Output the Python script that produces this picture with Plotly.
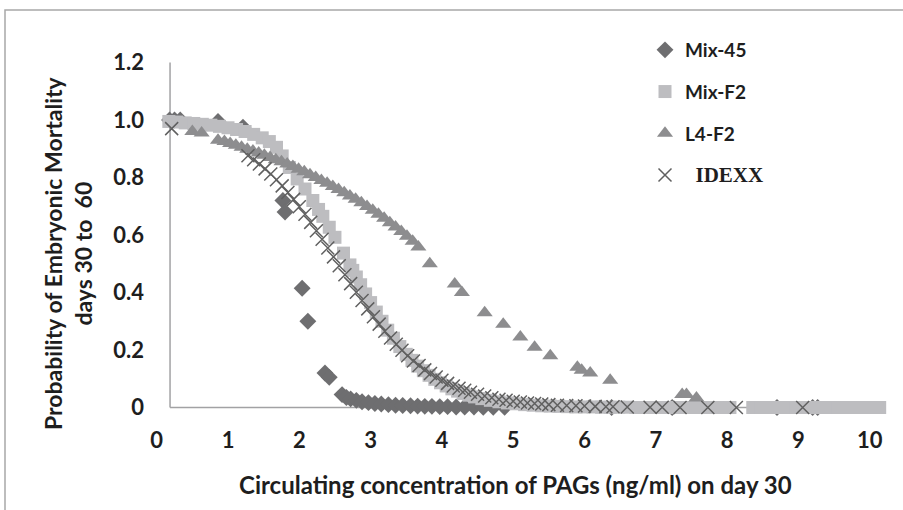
import plotly.graph_objects as go

# ---------------- data ----------------
mix45_x = [0.18, 0.25, 0.33, 0.86, 1.21, 1.77, 1.80, 2.04, 2.12, 2.36, 2.42, 2.60, 2.66,
           2.72, 2.80, 2.88, 2.97, 3.06, 3.15, 3.25, 3.35, 3.45, 3.56, 3.66, 3.76, 3.86,
           3.97, 4.08, 4.20, 4.32, 4.45, 4.58, 4.72, 4.88, 6.38, 7.23, 8.70, 9.20, 9.27]
mix45_y = [1.0, 1.0, 1.0, 0.995, 0.975, 0.72, 0.68, 0.415, 0.30, 0.12, 0.105, 0.045, 0.035,
           0.030, 0.025, 0.020, 0.017, 0.014, 0.012, 0.010, 0.008, 0.007, 0.006, 0.005, 0.004, 0.004,
           0.003, 0.003, 0.002, 0.002, 0.002, 0.001, 0.001, 0.001, 0.0, 0.0, 0.0, 0.0, 0.0]

mixf2_x = [0.17, 0.28, 0.40, 0.52, 0.64, 0.76, 0.88, 1.00, 1.12, 1.24, 1.36, 1.48, 1.58, 1.68,
           1.76, 1.86, 1.97, 2.08, 2.19, 2.27, 2.33, 2.42, 2.50, 2.62, 2.71, 2.75, 2.80, 2.86,
           2.93, 3.00, 3.08, 3.16, 3.24, 3.32, 3.41, 3.50, 3.58, 3.66, 3.74, 3.82, 3.90, 3.98,
           4.06, 4.14, 4.22, 4.30, 4.38, 4.46, 4.56, 4.68, 4.80, 4.92, 5.04, 5.16, 5.28, 5.40,
           5.52, 5.64, 5.76, 5.88, 6.00, 6.12, 6.24, 6.36, 6.48, 6.60, 6.72, 6.84, 6.96, 7.08,
           7.20, 7.32, 7.44, 7.56, 7.68, 7.80, 7.92, 8.04, 8.36, 8.48, 8.60, 8.72, 8.84, 8.96,
           9.08, 9.20, 9.32, 9.44, 9.56, 9.68, 9.80, 9.92, 10.04, 10.14]
mixf2_y = [0.995, 0.993, 0.990, 0.988, 0.985, 0.982, 0.978, 0.973, 0.967, 0.960, 0.950, 0.938, 0.925, 0.905,
           0.875, 0.835, 0.795, 0.760, 0.720, 0.689, 0.665, 0.627, 0.592, 0.537, 0.496, 0.477, 0.454, 0.427,
           0.395, 0.365, 0.332, 0.300, 0.269, 0.241, 0.212, 0.185, 0.164, 0.144, 0.128, 0.112, 0.098, 0.086,
           0.075, 0.065, 0.057, 0.049, 0.043, 0.037, 0.031, 0.025, 0.020, 0.016, 0.013, 0.010, 0.008, 0.006,
           0.005, 0.004, 0.003, 0.002, 0.002, 0.002, 0.001, 0.001, 0.001, 0.001, 0.0, 0.0, 0.0, 0.0,
           0.0, 0.0, 0.0, 0.0, 0.0, 0.0, 0.0, 0.0, 0.0, 0.0, 0.0, 0.0, 0.0, 0.0,
           0.0, 0.0, 0.0, 0.0, 0.0, 0.0, 0.0, 0.0, 0.0, 0.0]

l4f2_x = [0.50, 0.63, 0.86, 0.95, 1.03, 1.11, 1.19, 1.27, 1.35, 1.43, 1.51, 1.59, 1.67, 1.75,
          1.83, 1.91, 1.99, 2.07, 2.15, 2.23, 2.31, 2.39, 2.47, 2.55, 2.63, 2.71, 2.79, 2.87,
          2.95, 3.03, 3.11, 3.19, 3.27, 3.35, 3.43, 3.51, 3.59, 3.67, 3.83, 4.18, 4.28, 4.60,
          4.86, 5.10, 5.30, 5.52, 5.90, 5.96, 6.08, 6.36, 7.37, 7.43, 7.57]
l4f2_y = [0.960, 0.955, 0.930, 0.925, 0.918, 0.912, 0.905, 0.898, 0.892, 0.885, 0.877, 0.870, 0.862, 0.855,
          0.847, 0.838, 0.829, 0.820, 0.810, 0.800, 0.790, 0.780, 0.769, 0.758, 0.747, 0.736, 0.724, 0.712,
          0.699, 0.686, 0.672, 0.658, 0.643, 0.628, 0.612, 0.596, 0.578, 0.558, 0.500, 0.430, 0.400, 0.330,
          0.290, 0.245, 0.210, 0.180, 0.140, 0.130, 0.120, 0.095, 0.045, 0.045, 0.033]

idexx_x = [0.21, 1.28, 1.36, 1.44, 1.52, 1.60, 1.68, 1.76, 1.84, 1.92, 2.00, 2.08, 2.16, 2.24,
           2.32, 2.40, 2.48, 2.56, 2.64, 2.72, 2.80, 2.88, 2.96, 3.04, 3.12, 3.20, 3.28, 3.36,
           3.44, 3.52, 3.60, 3.68, 3.76, 3.84, 3.92, 4.00, 4.08, 4.16, 4.24, 4.32, 4.40, 4.50,
           4.60, 4.70, 4.80, 4.90, 5.00, 5.10, 5.20, 5.30, 5.40, 5.50, 5.62, 5.75, 5.88, 6.00,
           6.15, 6.30, 6.40, 6.60, 6.92, 7.09, 7.34, 7.73, 8.13, 9.06]
idexx_y = [0.970, 0.876, 0.862, 0.847, 0.830, 0.812, 0.792, 0.771, 0.748, 0.724, 0.698, 0.672, 0.644, 0.615,
           0.585, 0.555, 0.524, 0.493, 0.462, 0.431, 0.401, 0.372, 0.343, 0.316, 0.290, 0.265, 0.242, 0.220,
           0.199, 0.180, 0.162, 0.146, 0.131, 0.118, 0.106, 0.095, 0.084, 0.075, 0.067, 0.060, 0.053, 0.046,
           0.040, 0.034, 0.029, 0.025, 0.022, 0.019, 0.016, 0.014, 0.012, 0.010, 0.008, 0.007, 0.006, 0.005,
           0.004, 0.003, 0.003, 0.002, 0.001, 0.001, 0.0, 0.0, 0.0, 0.0]

x_ticks = [0, 1, 2, 3, 4, 5, 6, 7, 8, 9, 10]
y_ticks = [0, 0.2, 0.4, 0.6, 0.8, 1.0, 1.2]
y_tick_text = ["0", "0.2", "0.4", "0.6", "0.8", "1.0", "1.2"]

# ---------------- figure ----------------
FONT = "Lato"
TXT = "#1e1e1e"

fig = go.Figure()
fig.add_trace(go.Scatter(x=mix45_x, y=mix45_y, mode="markers", name="<b>Mix-45</b>",
                         legendgroup="a",
                         marker=dict(symbol="diamond", size=13, color="#6e6e70")))
fig.add_trace(go.Scatter(x=mixf2_x, y=mixf2_y, mode="markers", name="<b>Mix-F2</b>",
                         legendgroup="b",
                         marker=dict(symbol="square", size=13, color="#bdbdc0")))
fig.add_trace(go.Scatter(x=l4f2_x, y=l4f2_y, mode="markers", name="<b>L4-F2</b>",
                         legendgroup="c",
                         marker=dict(symbol="triangle-up", size=14, color="#8d8d8f")))
fig.add_trace(go.Scatter(x=idexx_x, y=idexx_y, mode="markers",
                         name="<span style='font-family:Liberation Serif;font-size:21px'>&nbsp;&nbsp;<b>IDEXX</b></span>",
                         legendgroup="d",
                         marker=dict(symbol="x-thin", size=13, color="#606060",
                                     line=dict(color="#606060", width=1.5))))

L, T, W, H = 150, 45, 748, 380

def px(xp):
    return (xp - L) / W

def py(yp):
    return (T + H - yp) / H

axis_col = "#a2a2a4"
shapes = [
    # outer frame
    dict(type="rect", xref="paper", yref="paper", x0=px(5), x1=1.05, y0=-0.4, y1=py(10),
         line=dict(color="#a8a8a8", width=1.5), layer="below"),
    # y axis line
    dict(type="line", xref="x", yref="y", x0=0.187, x1=0.187, y0=0, y1=1.2,
         line=dict(color=axis_col, width=1.5), layer="below"),
    # x axis line
    dict(type="line", xref="x", yref="y", x0=0.187, x1=10.15, y0=0, y1=0,
         line=dict(color=axis_col, width=1.5), layer="below"),
]

annotations = [
    dict(text="<b>Circulating concentration of PAGs (ng/ml) on day 30</b>", xref="paper", yref="paper",
         x=px(515), y=py(484), showarrow=False, xanchor="center", yanchor="middle",
         font=dict(family=FONT, size=24, color=TXT)),
    dict(text="<b>Probability of Embryonic Mortality<br>days 30 to  60</b>", xref="paper", yref="paper",
         x=px(68), y=py(253), showarrow=False, xanchor="center", yanchor="middle", textangle=-90,
         font=dict(family=FONT, size=23, color=TXT)),
]

fig.update_layout(
    width=903, height=510,
    margin=dict(l=L, r=903 - L - W, t=T, b=510 - T - H, autoexpand=False),
    paper_bgcolor="white", plot_bgcolor="white",
    showlegend=True,
    legend=dict(x=px(645), y=py(31), xanchor="left", yanchor="top",
                font=dict(family=FONT, size=19, color=TXT),
                tracegroupgap=14, bgcolor="rgba(0,0,0,0)", itemsizing="trace"),
    xaxis=dict(range=[-0.094, 10.397], tickvals=x_ticks, ticktext=["<b>%d</b>" % v for v in x_ticks],
               showgrid=False, zeroline=False, showline=False, ticks="",
               tickfont=dict(family=FONT, size=22, color=TXT)),
    yaxis=dict(range=[-0.0608, 1.2609], tickvals=y_ticks, ticktext=["<b>%s</b>" % t for t in y_tick_text],
               showgrid=False, zeroline=False, showline=False, ticks="", ticklabelstandoff=5,
               tickfont=dict(family=FONT, size=22, color=TXT)),
    shapes=shapes, annotations=annotations,
)

fig.write_html("out.html")
